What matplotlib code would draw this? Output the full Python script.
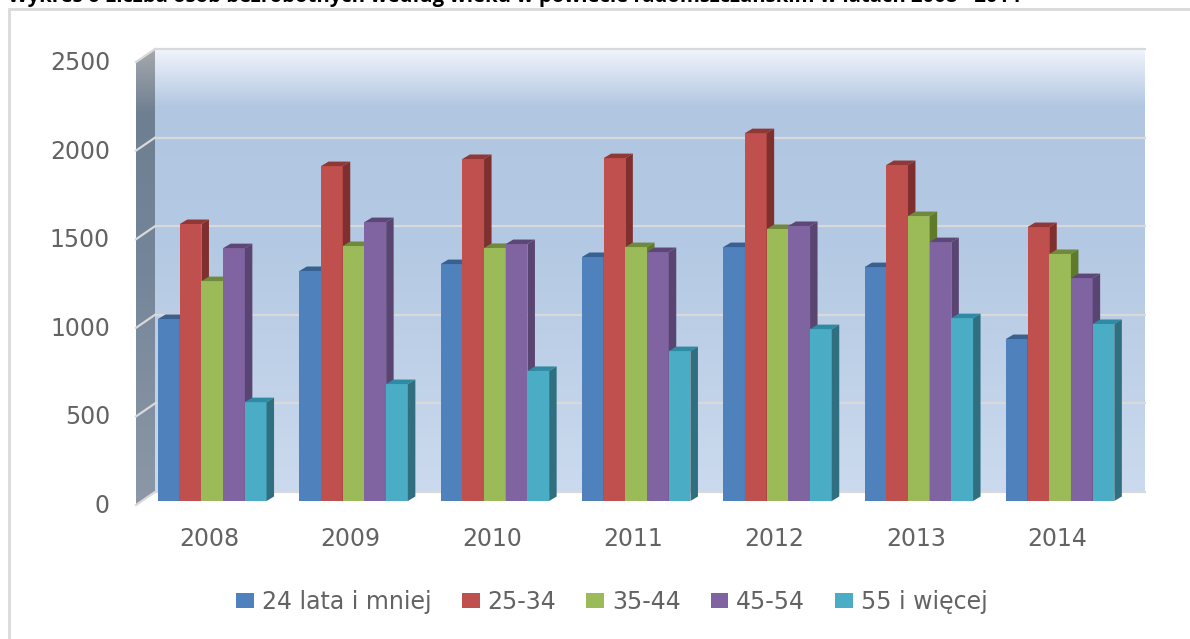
import numpy as np
import matplotlib
matplotlib.use("Agg")
import matplotlib.pyplot as plt
from matplotlib.colors import LinearSegmentedColormap
from matplotlib.patches import Patch, Polygon, Rectangle

years = ["2008", "2009", "2010", "2011", "2012", "2013", "2014"]
labels = ["24 lata i mniej", "25-34", "35-44", "45-54", "55 i więcej"]
young = [1027, 1298, 1337, 1377, 1433, 1320, 914]
age25 = [1563, 1890, 1930, 1935, 2076, 1896, 1546]
age35 = [1241, 1439, 1428, 1433, 1535, 1608, 1394]
age45 = [1427, 1574, 1450, 1405, 1552, 1461, 1258]
old = [558, 660, 734, 846, 970, 1032, 999]
series = [young, age25, age35, age45, old]
yticks = [0, 500, 1000, 1500, 2000, 2500]

front = ["#4f81bd", "#c0504d", "#9bbb59", "#8064a2", "#4bacc6"]
top = ["#386192", "#8f3835", "#71893f", "#5c4776", "#2f8aa3"]
side = ["#345a88", "#7f2f2d", "#5f7a2b", "#5a4572", "#2f6f80"]

title = "Wykres 6 Liczba osób bezrobotnych według wieku w powiecie radomszczańskim w latach 2008 - 2014"

W, H = 1190, 639
fig = plt.figure(figsize=(W / 100, H / 100), dpi=100, facecolor="white")
L, R, T, B = 136, 1146, 48, 505
ax = fig.add_axes([L / W, 1 - B / H, (R - L) / W, (B - T) / H])

# one group = 141.3 px, one unit of value = 0.1772 px, bars stand at y=501
px_x = 141.3
px_y = 0.1772
ax.set_xlim((L - 212.3) / px_x, (R - 212.3) / px_x)
ax.set_ylim((501 - B) / px_y, (501 - T) / px_y)
for s in ax.spines.values():
    s.set_visible(False)
ax.set_facecolor("none")

# 3d offsets in data units
dx_bar = 7.5 / px_x
dy_bar = 4.5 / px_y
dx_wall = 19 / px_x
x0 = ax.get_xlim()[0]
x1 = ax.get_xlim()[1]
y_front = -4 / px_y    # value 0 on the front edge of the side wall
y_back = 9 / px_y      # value 0 on the back wall
wall_h = 2500

# back wall
wall_cm = LinearSegmentedColormap.from_list("wall", [(0, "#f0f4fc"), (0.13, "#b1c6e0"),
                                                     (0.45, "#b4c9e3"), (1, "#cbdaee")])
grad = np.linspace(0, 1, 256).reshape(-1, 1)
ax.imshow(grad, cmap=wall_cm, aspect="auto", zorder=1,
          extent=(x0 + dx_wall, x1 - 2 / px_x, y_back, y_back + wall_h))

# side wall
side_cm = LinearSegmentedColormap.from_list("side", [(0, "#a4a8ac"), (0.14, "#6f7f92"),
                                                     (0.5, "#76869a"), (1, "#8c98a6")])
im = ax.imshow(grad, cmap=side_cm, aspect="auto", zorder=1,
               extent=(x0, x0 + dx_wall, y_front, y_back + wall_h))
clip = Polygon([(x0, y_front), (x0 + dx_wall, y_back), (x0 + dx_wall, y_back + wall_h),
                (x0, y_front + wall_h)], transform=ax.transData, fc="none", ec="none")
ax.add_patch(clip)
im.set_clip_path(clip)
ax.set_xlim(x0, x1)
ax.set_ylim((501 - B) / px_y, (501 - T) / px_y)

# grid lines, back wall and side wall
for v in yticks:
    ax.plot([x0 + dx_wall, x1], [y_back + v, y_back + v], color="#d9d9d9", lw=1.6, zorder=2,
            solid_capstyle="butt", clip_on=False)
    ax.plot([x0, x0 + dx_wall], [y_front + v, y_back + v], color="#d9d9d9", lw=1.6, zorder=2, clip_on=False)

# bars, left ones first so the next bar covers their side face
bar_w = 108.5 / 5 / px_x
start = -108.5 / 2 / px_x
for i, vals in enumerate(series):
    xs = np.arange(len(years)) + start + i * bar_w
    ax.bar(xs, vals, width=bar_w, align="edge", color=front[i], zorder=3 + i)
    for x, v in zip(xs, vals):
        ax.add_patch(Polygon([(x, v), (x + dx_bar, v + dy_bar), (x + bar_w + dx_bar, v + dy_bar), (x + bar_w, v)],
                             fc=top[i], ec="none", zorder=3 + i))
        ax.add_patch(Polygon([(x + bar_w, 0), (x + bar_w + dx_bar, dy_bar), (x + bar_w + dx_bar, v + dy_bar),
                              (x + bar_w, v)], fc=side[i], ec="none", zorder=3 + i))

# tick labels
ax.set_xticks([])
ax.set_yticks([])
for i, y in enumerate(years):
    ax.annotate(y, (i, 0), xytext=(-3, -38), textcoords="offset pixels", ha="center", va="center",
                fontsize=17, color="#636363", annotation_clip=False)
for v in yticks:
    ax.annotate(str(v), (x0, v), xytext=(-26, -5), textcoords="offset pixels", ha="right", va="center",
                fontsize=17, color="#636363", annotation_clip=False)

# outer frame and cut off title
fig.add_artist(Rectangle((8.5 / W, -0.1), 1.1, 1 - 8.5 / H + 0.1, transform=fig.transFigure, fc="none",
                         ec="#d9d9d9", lw=2))
fig.text(8 / W, 1 - 2 / H, title, ha="left", va="baseline", fontsize=14.6, fontweight="bold",
         family="Open Sans", color="black")

handles = [Patch(fc=c, ec="none") for c in front]
fig.legend(handles, labels, loc="center", bbox_to_anchor=(612 / W, 1 - 602 / H), ncol=5, frameon=False,
           fontsize=17, labelcolor="#636363", handlelength=0.76, handleheight=0.6, handletextpad=0.33,
           columnspacing=1.27)

fig.savefig("out.png", dpi=100)
